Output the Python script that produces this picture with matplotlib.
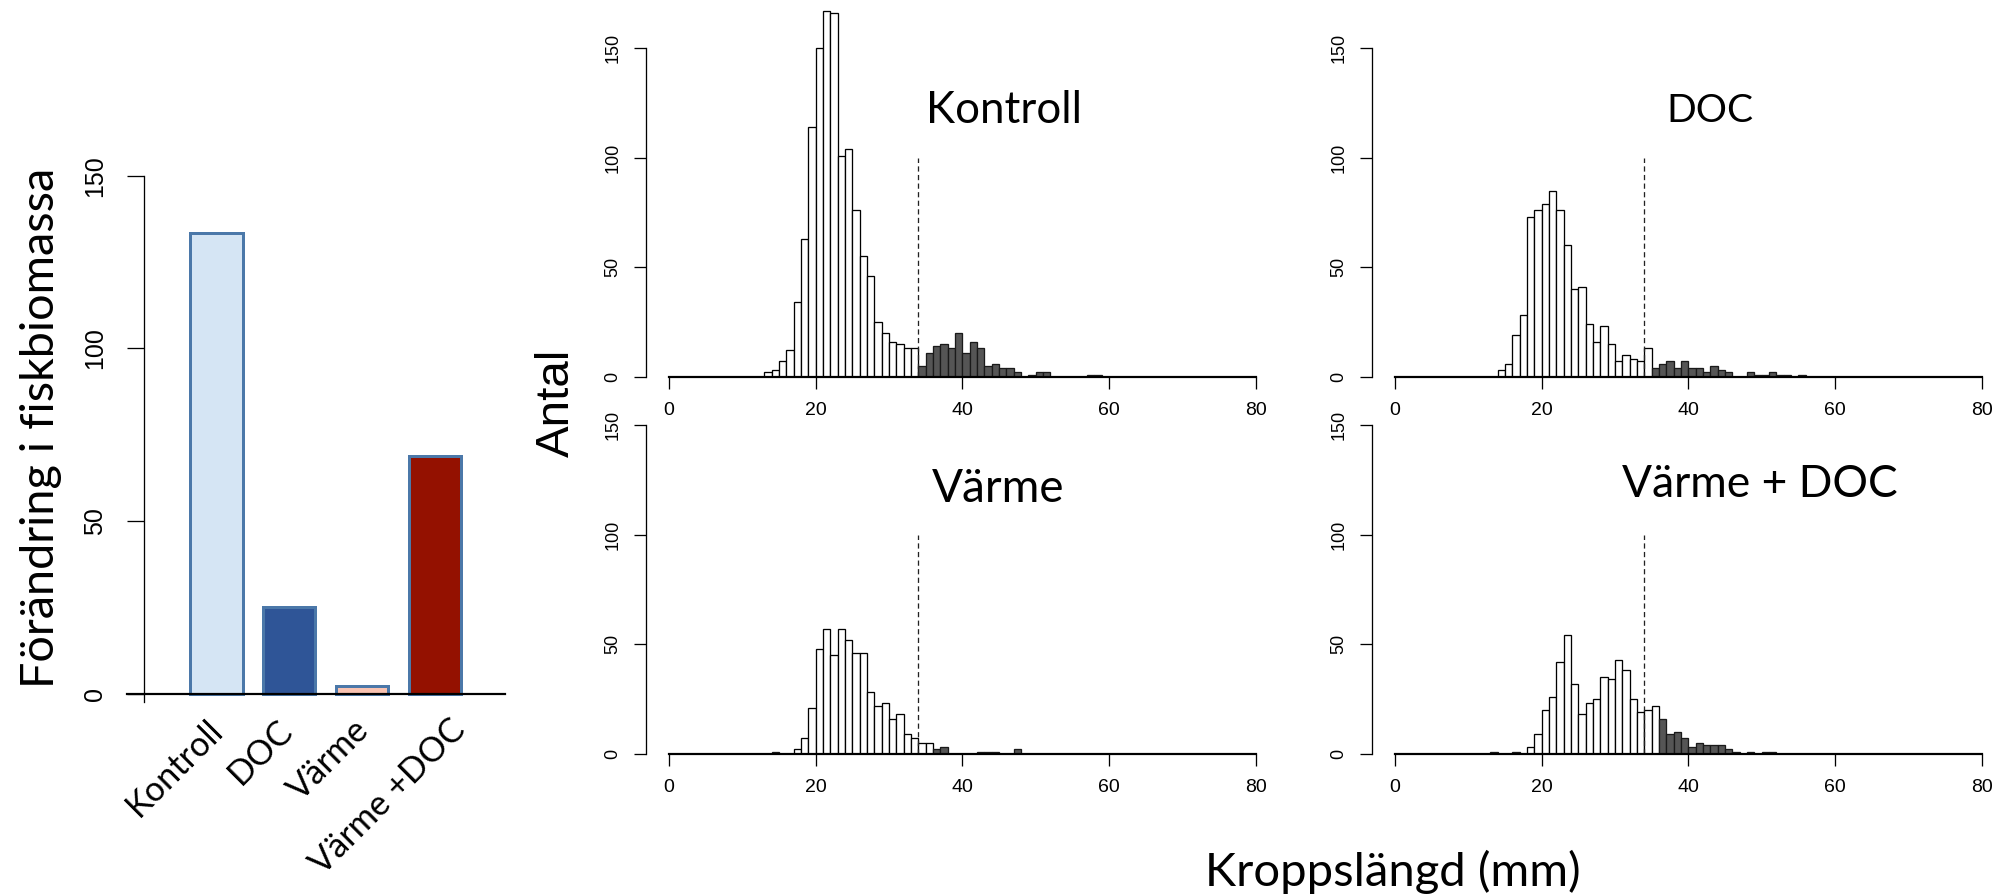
import matplotlib
matplotlib.use("Agg")
import matplotlib.pyplot as plt
import numpy as np

# ---------------- data ----------------
kategorier = ["Kontroll", "DOC", "Värme", "Värme +DOC"]
biomassa = [133.5, 25.2, 2.4, 68.8]
stapelfarger = ["#D5E5F4", "#2F5597", "#F9C3B2", "#941100"]

# histogram counts per 1-mm bin, starting at the given first bin
kontroll_forsta = 13
kontroll_antal = [2, 3, 7, 12, 34, 63, 114, 150, 167, 166, 101, 104, 76, 55, 46, 25,
                  20, 16, 15, 13, 13, 5, 11, 14, 15, 13, 20, 11, 16, 13, 5, 6, 4, 4,
                  2, 0, 1, 2, 2, 0, 0, 0, 0, 0, 1, 1]
kontroll_mork_fran = 34
kontroll_extra_mork = []

doc_forsta = 14
doc_antal = [3, 6, 19, 28, 73, 76, 79, 85, 76, 60, 40, 41, 24, 16, 23, 15, 7, 10, 8,
             7, 13, 4, 6, 7, 4, 7, 4, 4, 2, 5, 3, 2, 0, 0, 2, 1, 1, 2, 1, 1, 0, 1]
doc_mork_fran = 35
doc_extra_mork = []

varme_forsta = 14
varme_antal = [1, 0, 0, 2, 7, 21, 48, 57, 45, 57, 52, 46, 46, 28, 22, 23, 16, 18, 9,
               7, 5, 5, 2, 3, 0, 0, 0, 0, 1, 1, 1, 0, 0, 2]
varme_mork_fran = 36
varme_extra_mork = [14]

vdoc_forsta = 13
vdoc_antal = [1, 0, 0, 1, 0, 3, 9, 20, 26, 42, 54, 32, 18, 23, 25, 35, 34, 43, 38,
              25, 19, 20, 22, 16, 9, 10, 7, 3, 5, 4, 4, 4, 2, 1, 0, 1, 0, 1, 1]
vdoc_mork_fran = 36
vdoc_extra_mork = [13, 16]

panel_titlar = ["Kontroll", "DOC", "Värme", "Värme + DOC"]
grans_mm = 34
grans_hojd = 100
x_ticks = [0, 20, 40, 60, 80]
y_ticks = [0, 50, 100, 150]

# ---------------- layout helpers ----------------
W, H = 2011, 896
fig = plt.figure(figsize=(W / 100, H / 100), dpi=100)
PT = 72.0 / 100.0  # points per pixel

CAL = ["Lato", "DejaVu Sans"]
ARI = ["Liberation Sans", "DejaVu Sans"]


def box(l, t, r, b):
    return [l / W, 1 - b / H, (r - l) / W, (b - t) / H]


# ---------------- bar chart ----------------
BX0, BDX = 216.5, 72.75  # pixel of category 0 and spacing
BY0, BPU = 694.0, 3.455  # pixel of y=0 and px per unit
xl = ((127 - BX0) / BDX, (505 - BX0) / BDX)
yl = (-2.3, 155)
axb = fig.add_axes(box(127, BY0 - yl[1] * BPU, 505, BY0 - yl[0] * BPU))
axb.patch.set_visible(False)
xpos = np.arange(len(kategorier))
axb.bar(xpos, biomassa, width=0.715, color=stapelfarger, edgecolor="#4B78A9",
        linewidth=3 * PT, zorder=3)
axb.set_xlim(*xl)
axb.set_ylim(*yl)
for s in ["top", "right"]:
    axb.spines[s].set_visible(False)
axb.spines["left"].set_position(("data", (144 - BX0) / BDX))
axb.spines["left"].set_bounds(yl[0], 150)
axb.spines["left"].set_linewidth(1.3 * PT)
axb.spines["bottom"].set_position(("data", 0))
axb.spines["bottom"].set_linewidth(2.2 * PT)
axb.spines["bottom"].set_zorder(4)
axb.set_yticks(y_ticks)
axb.set_yticklabels([str(v) for v in y_ticks], family=ARI)
axb.tick_params(axis="y", length=17 * PT, width=1.3 * PT, direction="out",
                pad=20 * PT, labelsize=18, labelrotation=90, colors="black")
for lab in axb.get_yticklabels():
    lab.set_va("center")
axb.set_xticks([])
# right end of each label's baseline, offset from bar centre (px)
lab_dx = [8, 6, 9, 32]
katlabels = []
for i, k in enumerate(kategorier):
    t = axb.annotate(k, xy=(i, 0), xytext=(lab_dx[i] * PT, -38 * PT),
                     textcoords="offset points", rotation=45, rotation_mode="anchor",
                     ha="right", va="baseline", family=CAL, fontsize=24)
    katlabels.append(t)

# ---------------- histograms ----------------
PXMM = 7.333
PXU = 2.19
panels = [
    (669, 376.7, 172, kontroll_forsta, kontroll_antal, kontroll_mork_fran, kontroll_extra_mork),
    (1395, 376.7, 172, doc_forsta, doc_antal, doc_mork_fran, doc_extra_mork),
    (669, 753.7, 160, varme_forsta, varme_antal, varme_mork_fran, varme_extra_mork),
    (1395, 753.7, 160, vdoc_forsta, vdoc_antal, vdoc_mork_fran, vdoc_extra_mork),
]
for (x0, y0, ytop, forsta, antal, mork_fran, extra) in panels:
    ax = fig.add_axes(box(x0 - 3.2 * PXMM, y0 - ytop * PXU, x0 + 83.2 * PXMM, y0))
    ax.patch.set_visible(False)
    antal = np.asarray(antal)
    bins = forsta + np.arange(len(antal))
    mork = (bins >= mork_fran) | np.isin(bins, extra)
    ax.bar(bins[~mork], antal[~mork], width=1, align="edge", color="white",
           edgecolor="black", linewidth=1.3 * PT, zorder=2)
    ax.bar(bins[mork], antal[mork], width=1, align="edge", color="#555555",
           edgecolor="#1a1a1a", linewidth=1.3 * PT, zorder=2)
    ax.vlines(grans_mm, 0, grans_hojd, colors="#222222", linestyles=(0, (4, 2.6)),
              linewidth=1.3 * PT, zorder=3)
    ax.set_xlim(-3.2, 83.2)
    ax.set_ylim(0, ytop)
    for s in ["top", "right"]:
        ax.spines[s].set_visible(False)
    ax.spines["left"].set_bounds(0, 150)
    ax.spines["left"].set_linewidth(1.3 * PT)
    ax.spines["bottom"].set_bounds(0, 80)
    ax.spines["bottom"].set_linewidth(2.2 * PT)
    ax.spines["bottom"].set_zorder(4)
    ax.set_xticks(x_ticks)
    ax.set_xticklabels([str(v) for v in x_ticks], family=ARI)
    ax.set_yticks(y_ticks)
    ax.set_yticklabels([str(v) for v in y_ticks], family=ARI)
    ax.tick_params(axis="x", length=12 * PT, width=1.3 * PT, pad=13 * PT, labelsize=14)
    ax.tick_params(axis="y", length=12 * PT, width=1.3 * PT, pad=12 * PT, labelsize=13,
                   labelrotation=90)
    for lab in ax.get_yticklabels():
        lab.set_va("center")

# ---------------- big texts ----------------
def ftext(xpx, ypx, s, **kw):
    return fig.text(xpx / W, 1 - ypx / H, s, **kw)

titles = [
    ftext(1004, 123, panel_titlar[0], ha="center", va="baseline", family=CAL, fontsize=34),
    ftext(1710, 122, panel_titlar[1], ha="center", va="baseline", family=CAL, fontsize=34),
    ftext(998, 502, panel_titlar[2], ha="center", va="baseline", family=CAL, fontsize=34),
    ftext(1760, 497, panel_titlar[3], ha="center", va="baseline", family=CAL, fontsize=34),
]
title_w = [156, 87, 133, 276]
xlab = ftext(1393, 886, "Kroppslängd (mm)", ha="center", va="baseline", family=CAL, fontsize=34)
antal_lab = ftext(557, 403, "Antal", ha="center", va="center", rotation=90, family=ARI, fontsize=34)
ylab_b = ftext(41, 428, "Förändring i fiskbiomassa", ha="center", va="center", rotation=90,
               family=CAL, fontsize=34)

fig.canvas.draw()
r = fig.canvas.get_renderer()


def fit_w(t, target):
    w = t.get_window_extent(r).width
    t.set_fontsize(t.get_fontsize() * target / w)


def fit_h(t, target):
    h = t.get_window_extent(r).height
    t.set_fontsize(t.get_fontsize() * target / h)


for t, w in zip(titles, title_w):
    fit_w(t, w)
fit_w(xlab, 376)
fit_h(antal_lab, 108)
fit_h(ylab_b, 522)

# category label size from the length of "Kontroll"
tmp = fig.text(0, 0, kategorier[0], family=CAL, fontsize=24)
wk = tmp.get_window_extent(r).width
tmp.remove()
ks = 24 * 122 / wk
for t in katlabels:
    t.set_fontsize(ks)

fig.savefig("out.png", dpi=100)
